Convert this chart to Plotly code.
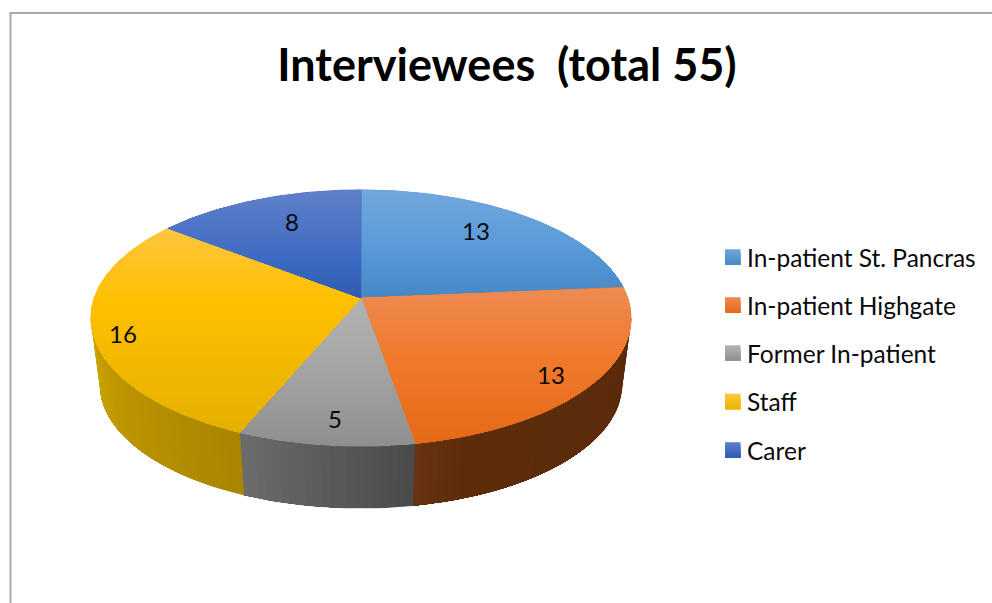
import math
import plotly.graph_objects as go

# Chart content
TITLE = "Interviewees \u00a0(total 55)"
CATEGORIES = ["In-patient St. Pancras", "In-patient Highgate", "Former In-patient", "Staff", "Carer"]
VALUES = [13, 13, 5, 16, 8]

# Vertical gradient of each slice's top face: (fraction of slice height, colour)
TOP_STOPS = [
    [(0.0, "#72a7de"), (0.5, "#5a9bd8"), (1.0, "#4688c6")],
    [(0.0, "#ee8b52"), (0.45, "#f1792b"), (1.0, "#e46a17")],
    [(0.0, "#b4b4b4"), (0.5, "#a3a3a3"), (1.0, "#8f8f8f")],
    [(0.0, "#fdc63f"), (0.35, "#ffc000"), (1.0, "#e4b000")],
    [(0.0, "#6180ca"), (0.65, "#3c6ac3"), (1.0, "#2f5cb0")],
]
# Shading along the rim wall, from the start to the end of each slice's visible arc
WALL_STOPS = [
    None,
    [(0.0, "#5a2b0b"), (0.85, "#5c2c0b"), (1.0, "#68320f")],
    [(0.0, "#4a4a4a"), (1.0, "#6c6c6c")],
    [(0.0, "#a98500"), (0.6, "#bd9600"), (1.0, "#d2a800")],
    None,
]
SWATCH_STOPS = [
    [(0.0, "#6fa6de"), (1.0, "#4688c6")],
    [(0.0, "#ee8b52"), (1.0, "#e56a17")],
    [(0.0, "#b4b4b4"), (1.0, "#8f8f8f")],
    [(0.0, "#fdc63f"), (1.0, "#eab500")],
    [(0.0, "#5f80ca"), (1.0, "#2f5cb0")],
]

# Drawing geometry, in pixels of the 992x603 canvas
CX, CY = 361.0, 298.0
RX, RY, PERSP = 266.7, 124.9, 0.156
WALL_DROP, WALL_SCALE = 67.0, 0.967
VISIBLE_ARC = (99.0, 261.0)
LABEL_X = [476, 551, 335, 123, 292]
LABEL_Y = [230, 374, 418, 333, 221]
LEGEND_Y = [257, 305, 353, 401.5, 450]
SWATCH_X, SWATCH_SIZE, LEGEND_TEXT_X = 725, 15.5, 745
LEGEND_FONT, LABEL_FONT, TITLE_FONT = 24.5, 24, 45
FONT = "Lato"
TEXT_COLOR = "#0a0a0a"


def project(angle, radius=1.0, lower=False):
    """Perspective projection of a disc point; angle runs clockwise from the back."""
    a = math.radians(angle)
    x, y = radius * math.sin(a), radius * math.cos(a)
    w = 1 + PERSP * y
    scale = WALL_SCALE if lower else 1.0
    return (
        CX + scale * RX * x / w,
        CY + (WALL_DROP if lower else 0.0) - scale * RY * y / w,
    )


def hex_rgb(c):
    return tuple(int(c[i:i + 2], 16) for i in (1, 3, 5))


def blend(stops, t):
    t = min(1.0, max(0.0, t))
    for (t0, c0), (t1, c1) in zip(stops, stops[1:]):
        if t <= t1:
            f = (t - t0) / (t1 - t0)
            a, b = hex_rgb(c0), hex_rgb(c1)
            return "rgb(%d,%d,%d)" % tuple(round(p + (q - p) * f) for p, q in zip(a, b))
    return stops[-1][1]


def clip_below(poly, edge):
    """Keep the part of a polygon lying at or below the horizontal line y = edge."""
    out = []
    for i, p in enumerate(poly):
        q = poly[(i + 1) % len(poly)]
        if p[1] >= edge:
            out.append(p)
        if (p[1] >= edge) != (q[1] >= edge):
            f = (edge - p[1]) / (q[1] - p[1])
            out.append((p[0] + (q[0] - p[0]) * f, edge))
    return out


def patch(fig, pts, color, stroke=0.0):
    xs = [p[0] for p in pts] + [pts[0][0]]
    ys = [p[1] for p in pts] + [pts[0][1]]
    fig.add_trace(go.Scatter(
        x=xs, y=ys, mode="lines", fill="toself", fillcolor=color,
        line=dict(color=color, width=stroke), hoverinfo="skip", showlegend=False,
    ))


fig = go.Figure()

total = sum(VALUES)
edges = [0.0]
for v in VALUES:
    edges.append(edges[-1] + v / total * 360)

# Rim wall: painted from each slice's start angle, every step overlapping the rest of the arc
for i in range(len(VALUES)):
    start, end = max(edges[i], VISIBLE_ARC[0]), min(edges[i + 1], VISIBLE_ARC[1])
    if end <= start or WALL_STOPS[i] is None:
        continue
    arc = lambda a0, lower: [
        project(a0 + (end - a0) * k / 24, lower=lower) for k in range(25)
    ]
    steps = max(2, int((end - start) / 1.5))
    for s in range(steps):
        a0 = start + (end - start) * s / steps
        patch(fig, arc(a0, False) + arc(a0, True)[::-1],
              blend(WALL_STOPS[i], (s + 0.5) / steps), stroke=0.5 if s == 0 else 0.0)

# Top face: each slice is painted downward in overlapping layers to form its gradient
for i in range(len(VALUES)):
    n = max(8, int((edges[i + 1] - edges[i]) / 1.0))
    wedge = [project(0, 0.0)] + [
        project(edges[i] + (edges[i + 1] - edges[i]) * k / n) for k in range(n + 1)
    ]
    top = min(p[1] for p in wedge)
    bottom = max(p[1] for p in wedge)
    patch(fig, wedge, blend(TOP_STOPS[i], 0.5), stroke=1.0)
    y = math.floor(top)
    while y < bottom:
        piece = clip_below(wedge, y)
        if len(piece) >= 3:
            patch(fig, piece, blend(TOP_STOPS[i], (y + 1 - top) / (bottom - top)))
        y += 2

# Legend swatches
for i, y in enumerate(LEGEND_Y):
    y0 = y - SWATCH_SIZE / 2
    for b in range(6):
        a = y0 + SWATCH_SIZE * b / 6
        patch(fig, [(SWATCH_X, a), (SWATCH_X + SWATCH_SIZE, a),
                    (SWATCH_X + SWATCH_SIZE, y0 + SWATCH_SIZE), (SWATCH_X, y0 + SWATCH_SIZE)],
              blend(SWATCH_STOPS[i], (b + 0.5) / 6))

annotations = []
for v, x, y in zip(VALUES, LABEL_X, LABEL_Y):
    annotations.append(dict(x=x, y=y, text=str(v), showarrow=False, xref="x", yref="y",
                            font=dict(family=FONT, size=LABEL_FONT, color=TEXT_COLOR)))
for name, y in zip(CATEGORIES, LEGEND_Y):
    annotations.append(dict(x=LEGEND_TEXT_X, y=y, text=name, showarrow=False, xref="x", yref="y",
                            xanchor="left", font=dict(family=FONT, size=LEGEND_FONT, color=TEXT_COLOR)))

fig.update_layout(
    width=992, height=603,
    margin=dict(l=0, r=0, t=0, b=0),
    paper_bgcolor="white", plot_bgcolor="white",
    showlegend=False,
    title=dict(text=TITLE, x=507 / 992, xanchor="center", y=1 - 65 / 603, yanchor="middle",
               font=dict(family=FONT, size=TITLE_FONT, color="#000000", weight="bold")),
    xaxis=dict(range=[0, 992], visible=False, fixedrange=True),
    yaxis=dict(range=[603, 0], visible=False, fixedrange=True),
    annotations=annotations,
    shapes=[dict(type="path", path="M 10.5 603 L 10.5 13 L 992 13",
                 line=dict(color="#a9a9a9", width=2), xref="x", yref="y")],
)

fig.write_html("out.html", config={"displayModeBar": False})
